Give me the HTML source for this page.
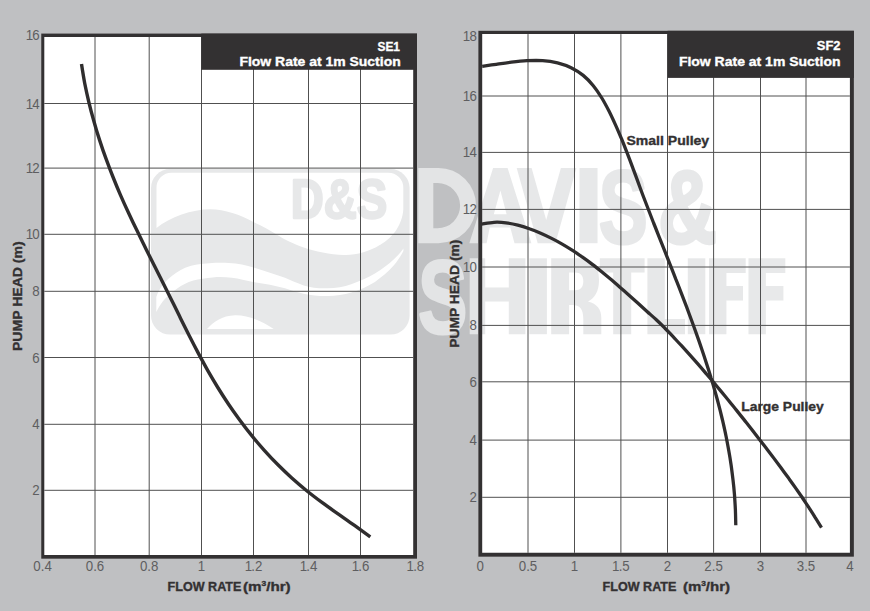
<!DOCTYPE html>
<html><head><meta charset="utf-8"><title>Pump curves</title>
<style>html,body{margin:0;padding:0;background:#bfc0c2;}body{width:870px;height:611px;overflow:hidden;}svg{display:block;position:absolute;left:0;top:0;}text{font-family:"Liberation Sans",sans-serif;}.t{font-size:14.3px;fill:#5e5e60;}.b{font-weight:bold;fill:#333132;stroke:#333132;stroke-width:0.35px;}.w{font-weight:bold;fill:#fff;stroke:#fff;stroke-width:0.35px;}</style></head><body>
<svg width="870" height="611" viewBox="0 0 870 611">
<rect width="870" height="611" fill="#bfc0c2"/>
<rect x="41.2" y="33.6" width="375.8" height="525.2" fill="#fff"/>
<rect x="478.3" y="30.8" width="375.6" height="526.0" fill="#fff"/>
<g>
<rect x="151" y="169.1" width="258.6" height="165.5" rx="19" ry="19" fill="#e7e8e9"/>
<path d="M156.5,228 V187.7 A15,15 0 0 1 171.5,172.7 H388.3 A15,15 0 0 1 403.3,187.7 V209.5 C403,216 400,226 393.9,233.2 C388,240.5 379.7,245.1 379.7,245.1 C370,251.5 355,255.5 344,255 C330,254.5 315,251.5 303.7,247.5 C292,243 286,240.5 280,236.5 C268,229 262,226 253.9,222.2 C240,214.5 225,209.3 210.3,209.2 C192,209.2 170,217 156.5,228 Z" fill="#fff"/>
<path d="M156.3,297 C159,289 164,282.5 169.1,278.2 C174,274 179,270.8 185.2,267.7 C193,264.6 201,263.6 209.4,263.2 C216,262.7 222,262.6 228.7,262.9 C238,263.5 246,265 254.4,267.7 C265,271 275,274.3 285,277.8 C291,280.2 297,283.3 303.7,285.4 C311,287.6 319,288.6 327.5,288.3 C336,288 344,286.8 351.2,284.2 C360,281 368,277.7 374.9,273.6 C382,269.3 388,264.7 393.9,259.3 C398,255.5 401,252 403.4,248.6 L403.4,251 C401,255.5 398,260.5 393.9,265.3 C388,271.8 382,277 374.9,281.9 C368,286.2 360,289.8 351.2,292.5 C344,294.7 336,296 327.5,296.1 C319,296.2 311,295.4 303.7,293.7 C297,292.1 291,290.2 285,288.2 C275,285.5 265,283.8 254.4,282.2 C246,280.5 239,278.4 231.9,277.7 C225,277 219,276.9 212.6,277.4 C206,278 199,279 193.3,280.6 C187,282.6 182,285.2 177.2,288.6 C171,292.8 166,297.2 162.7,301.5 C160,305 158,308.5 156.3,312 Z" fill="#fff"/>
<path d="M207,328.9 C213,322 222,315.6 235.1,315.2 C250,315 264,322.5 273.7,328.9 Z" fill="#fff"/>
<text x="290.8" y="218.0" font-size="55" font-weight="bold" fill="#e7e8e9" textLength="96.5" lengthAdjust="spacingAndGlyphs" stroke="#e7e8e9" stroke-width="2.4" stroke-linejoin="round">D&amp;S</text>
</g>
<g opacity="0.93" fill="#e6e7e8">
<path fill-rule="evenodd" d="M418.3,168.0 H438.5 A37.6,37.6 0 0 1 438.5,243.2 H418.3 Z M433.3,183.1 H437.5 A22.6,22.6 0 0 1 437.5,228.3 H433.3 Z"/>
<path fill-rule="evenodd" d="M469.3,243.2 L493.1,168.0 L507.6,168.0 L531.4,243.2 L514.5,243.2 L510.3,227.4 L489.7,227.4 L486.6,243.2Z M500.4,190.5 L506.6,214.3 L493.8,214.3Z"/>
<path d="M516.7,168.0 L531.6,168.0 L546.2,220.0 L560.9,168.0 L576.4,168.0 L555.4,243.2 L537.7,243.2Z"/>
<rect x="579.5" y="168.0" width="18.0" height="75.2"/>
<text x="598.8" y="242.6" font-size="103" font-weight="bold" textLength="49" lengthAdjust="spacingAndGlyphs" stroke="#e6e7e8" stroke-width="3" stroke-linejoin="round">S</text>
<text x="658" y="242.6" font-size="103" font-weight="bold" textLength="59" lengthAdjust="spacingAndGlyphs" stroke="#e6e7e8" stroke-width="3" stroke-linejoin="round">&amp;</text>
<text x="418.2" y="333.2" font-size="103" font-weight="bold" textLength="49" lengthAdjust="spacingAndGlyphs" stroke="#e6e7e8" stroke-width="3" stroke-linejoin="round">S</text>
<path d="M469.7,258.3 L485.2,258.3 L485.2,287.6 L508.8,287.6 L508.8,258.3 L525.4,258.3 L525.4,334.2 L508.8,334.2 L508.8,301.5 L485.2,301.5 L485.2,334.2 L469.7,334.2Z"/>
<rect x="529.4" y="258.3" width="17.5" height="75.9"/>
<path fill-rule="evenodd" d="M551.2,258.3 H580 C592,258.3 599,265 599,280 C599,291 595,298 588,301.5 C597,304 601.3,309 601.3,318 V334.2 H583.3 V319 C583.3,309 580,305 572,305 H569.1 V334.2 H551.2 Z M569.1,272.4 H575 C580.5,272.4 583.3,275.5 583.3,281.3 C583.3,287.2 580.5,290.3 575,290.3 H569.1 Z"/>
<path d="M599.8,258.3 L644.6,258.3 L644.6,272.4 L631.2,272.4 L631.2,334.2 L613.2,334.2 L613.2,272.4 L599.8,272.4Z"/>
<path d="M647.4,258.3 L664.8,258.3 L664.8,319.0 L685.0,319.0 L685.0,334.2 L647.4,334.2Z"/>
<rect x="687.8" y="258.3" width="17.5" height="75.9"/>
<path d="M709.0,258.3 L745.7,258.3 L745.7,273.0 L726.4,273.0 L726.4,285.9 L743.0,285.9 L743.0,300.6 L726.4,300.6 L726.4,334.2 L709.0,334.2Z"/>
<path d="M748.5,258.3 L785.3,258.3 L785.3,273.0 L765.9,273.0 L765.9,285.9 L783.4,285.9 L783.4,300.6 L765.9,300.6 L765.9,334.2 L748.5,334.2Z"/>
</g>
<path d="M95.0,36.9V555.0M149.2,36.9V555.0M201.5,36.9V555.0M253.5,36.9V555.0M308.5,36.9V555.0M360.5,36.9V555.0M44.3,103.5H413.2M44.3,168.1H413.2M44.3,234.3H413.2M44.3,291.3H413.2M44.3,357.5H413.2M44.3,424.3H413.2M44.3,490.3H413.2M528.0,34.1V552.8M574.5,34.1V552.8M620.9,34.1V552.8M667.5,34.1V552.8M713.6,34.1V552.8M760.5,34.1V552.8M806.0,34.1V552.8M482.2,96.0H849.9M482.2,152.4H849.9M482.2,209.4H849.9M482.2,267.0H849.9M482.2,325.4H849.9M482.2,381.8H849.9M482.2,440.1H849.9M482.2,497.3H849.9" stroke="#505050" stroke-width="1" fill="none"/>
<path fill-rule="evenodd" fill="#333132" d="M41.2,33.6H417.0V558.8H41.2Z M44.3,36.9H413.2V555.0H44.3Z"/>
<path fill-rule="evenodd" fill="#333132" d="M478.3,30.8H853.9V556.8H478.3Z M482.2,34.1H849.9V552.8H482.2Z"/>
<rect x="201.3" y="33.6" width="215.7" height="36.2" fill="#333132"/>
<rect x="667.6" y="30.8" width="186.3" height="47.1" fill="#333132"/>
<path d="M81.5,64.0 C82.0,67.2 83.5,76.8 84.7,83.2 C86.0,89.7 87.4,96.0 88.9,102.4 C90.4,108.7 92.1,115.1 93.9,121.3 C95.6,127.6 97.5,133.9 99.6,140.1 C101.6,146.3 103.7,152.5 106.0,158.7 C108.2,164.8 110.5,170.9 113.0,177.0 C115.4,183.1 117.9,189.1 120.5,195.1 C123.1,201.1 125.8,207.0 128.6,213.0 C131.3,218.9 134.1,224.8 137.0,230.6 C139.8,236.5 142.7,242.3 145.6,248.2 C148.5,254.0 151.5,259.8 154.4,265.7 C157.3,271.5 160.3,277.3 163.2,283.2 C166.1,289.0 169.0,294.9 171.9,300.8 C174.9,306.6 177.7,312.5 180.6,318.4 C183.5,324.2 186.4,330.1 189.4,336.0 C192.4,341.8 195.4,347.6 198.4,353.4 C201.5,359.2 204.6,364.9 207.8,370.6 C211.1,376.3 214.4,381.9 217.8,387.5 C221.2,393.0 224.7,398.5 228.4,404.0 C232.0,409.4 235.8,414.7 239.7,420.0 C243.5,425.2 247.5,430.4 251.6,435.4 C255.7,440.5 259.9,445.4 264.3,450.3 C268.6,455.1 273.1,459.9 277.7,464.5 C282.3,469.1 287.0,473.6 291.8,478.0 C296.7,482.4 301.6,486.6 306.7,490.7 C311.8,494.8 317.1,498.8 322.3,502.7 C327.6,506.6 333.0,510.3 338.4,514.1 C343.8,517.9 349.2,521.6 354.5,525.4 C359.8,529.2 367.7,534.9 370.3,536.8" fill="none" stroke="#2f2d2e" stroke-width="3.4" stroke-linecap="butt" stroke-linejoin="round"/>
<path d="M482.2,66.3 C484.6,66.0 491.4,65.0 496.3,64.3 C501.1,63.6 506.3,62.8 511.4,62.2 C516.5,61.6 521.8,61.0 527.0,60.7 C532.2,60.5 537.5,60.3 542.6,60.7 C547.7,61.0 552.7,61.7 557.5,62.8 C562.2,64.0 566.9,65.6 571.1,67.7 C575.4,69.8 579.5,72.4 583.2,75.4 C586.9,78.4 590.2,81.9 593.3,85.7 C596.4,89.5 599.2,93.7 601.8,98.0 C604.4,102.2 606.8,106.8 609.1,111.3 C611.4,115.9 613.5,120.5 615.6,125.1 C617.7,129.7 619.6,134.3 621.6,138.9 C623.5,143.6 625.3,148.2 627.1,152.9 C628.9,157.5 630.7,162.2 632.4,166.9 C634.2,171.6 635.9,176.3 637.6,180.9 C639.3,185.6 641.1,190.3 642.8,195.0 C644.6,199.6 646.4,204.3 648.2,209.0 C650.0,213.6 651.8,218.3 653.6,223.0 C655.5,227.6 657.3,232.3 659.1,236.9 C661.0,241.6 662.8,246.2 664.7,250.9 C666.5,255.6 668.4,260.2 670.2,264.9 C672.1,269.5 673.9,274.2 675.7,278.9 C677.6,283.5 679.4,288.2 681.2,292.9 C683.0,297.5 684.8,302.2 686.6,306.9 C688.3,311.6 690.1,316.3 691.8,321.0 C693.5,325.7 695.2,330.4 696.9,335.1 C698.6,339.8 700.2,344.5 701.8,349.2 C703.4,353.9 705.0,358.7 706.5,363.4 C708.1,368.2 709.6,372.9 711.0,377.7 C712.5,382.4 713.9,387.2 715.2,392.0 C716.6,396.8 717.9,401.6 719.1,406.4 C720.4,411.2 721.5,416.1 722.7,420.9 C723.8,425.8 724.9,430.6 725.9,435.5 C726.9,440.4 727.8,445.3 728.7,450.2 C729.6,455.1 730.4,460.0 731.1,465.0 C731.8,469.9 732.4,474.9 733.0,479.9 C733.6,484.8 734.1,489.8 734.5,494.9 C734.8,499.9 735.2,504.9 735.4,510.0 C735.6,515.1 735.7,522.8 735.8,525.3" fill="none" stroke="#2f2d2e" stroke-width="3.3" stroke-linecap="butt" stroke-linejoin="round"/>
<path d="M481.9,224.1 C483.9,223.8 490.0,222.5 494.0,222.3 C498.0,222.1 502.0,222.3 506.0,222.8 C509.9,223.3 513.9,224.1 517.8,225.1 C521.7,226.1 525.6,227.4 529.4,228.8 C533.2,230.1 537.0,231.6 540.7,233.2 C544.4,234.8 548.0,236.5 551.6,238.4 C555.2,240.2 558.7,242.1 562.2,244.1 C565.7,246.1 569.2,248.3 572.5,250.4 C575.9,252.6 579.2,254.9 582.5,257.2 C585.8,259.5 589.1,261.9 592.3,264.4 C595.5,266.8 598.6,269.3 601.7,271.8 C604.9,274.4 608.0,277.0 611.1,279.6 C614.1,282.2 617.2,284.8 620.2,287.5 C623.3,290.1 626.3,292.8 629.3,295.5 C632.3,298.2 635.3,300.9 638.3,303.6 C641.3,306.3 644.3,309.0 647.3,311.7 C650.3,314.4 653.4,317.0 656.3,319.8 C659.2,322.5 662.1,325.3 664.9,328.2 C667.8,331.0 670.5,334.0 673.3,336.9 C676.0,339.8 678.7,342.8 681.5,345.7 C684.2,348.7 686.9,351.7 689.6,354.7 C692.3,357.7 694.9,360.7 697.6,363.7 C700.3,366.8 702.9,369.8 705.5,372.9 C708.1,375.9 710.8,379.0 713.4,382.1 C716.0,385.2 718.5,388.3 721.1,391.4 C723.7,394.5 726.2,397.6 728.8,400.7 C731.3,403.9 733.9,407.0 736.4,410.1 C738.9,413.3 741.4,416.4 744.0,419.6 C746.5,422.8 749.0,425.9 751.4,429.1 C753.9,432.3 756.4,435.5 758.9,438.7 C761.3,441.9 763.8,445.0 766.3,448.2 C768.7,451.4 771.2,454.6 773.6,457.9 C776.0,461.1 778.4,464.3 780.8,467.5 C783.2,470.8 785.6,474.0 788.0,477.3 C790.3,480.5 792.7,483.8 795.0,487.1 C797.3,490.4 799.6,493.7 801.9,497.0 C804.1,500.4 806.4,503.7 808.6,507.1 C810.8,510.5 813.0,513.8 815.1,517.3 C817.3,520.7 820.4,525.9 821.5,527.6" fill="none" stroke="#2f2d2e" stroke-width="3.3" stroke-linecap="butt" stroke-linejoin="round"/>
<text class="t" transform="translate(42.6,570.5) scale(0.93,1)" text-anchor="middle">0.4</text>
<text class="t" transform="translate(95.0,570.5) scale(0.93,1)" text-anchor="middle">0.6</text>
<text class="t" transform="translate(149.2,570.5) scale(0.93,1)" text-anchor="middle">0.8</text>
<text class="t" transform="translate(201.5,570.5) scale(0.93,1)" text-anchor="middle">1</text>
<text class="t" transform="translate(253.5,570.5) scale(0.93,1)" text-anchor="middle">1<tspan dx="-0.9">.2</tspan></text>
<text class="t" transform="translate(308.5,570.5) scale(0.93,1)" text-anchor="middle">1<tspan dx="-0.9">.4</tspan></text>
<text class="t" transform="translate(360.5,570.5) scale(0.93,1)" text-anchor="middle">1<tspan dx="-0.9">.6</tspan></text>
<text class="t" transform="translate(415.4,570.5) scale(0.93,1)" text-anchor="middle">1<tspan dx="-0.9">.8</tspan></text>
<text class="t" transform="translate(39.6,40.3) scale(0.93,1)" text-anchor="end">1<tspan dx="-0.9">6</tspan></text>
<text class="t" transform="translate(39.6,108.5) scale(0.93,1)" text-anchor="end">1<tspan dx="-0.9">4</tspan></text>
<text class="t" transform="translate(39.6,173.1) scale(0.93,1)" text-anchor="end">1<tspan dx="-0.9">2</tspan></text>
<text class="t" transform="translate(39.6,239.3) scale(0.93,1)" text-anchor="end">1<tspan dx="-0.9">0</tspan></text>
<text class="t" transform="translate(39.6,296.3) scale(0.93,1)" text-anchor="end">8</text>
<text class="t" transform="translate(39.6,362.5) scale(0.93,1)" text-anchor="end">6</text>
<text class="t" transform="translate(39.6,429.3) scale(0.93,1)" text-anchor="end">4</text>
<text class="t" transform="translate(39.6,495.3) scale(0.93,1)" text-anchor="end">2</text>
<text class="t" transform="translate(480.2,570.5) scale(0.93,1)" text-anchor="middle">0</text>
<text class="t" transform="translate(528.0,570.5) scale(0.93,1)" text-anchor="middle">0.5</text>
<text class="t" transform="translate(574.5,570.5) scale(0.93,1)" text-anchor="middle">1</text>
<text class="t" transform="translate(620.9,570.5) scale(0.93,1)" text-anchor="middle">1<tspan dx="-0.9">.5</tspan></text>
<text class="t" transform="translate(667.5,570.5) scale(0.93,1)" text-anchor="middle">2</text>
<text class="t" transform="translate(713.6,570.5) scale(0.93,1)" text-anchor="middle">2.5</text>
<text class="t" transform="translate(760.5,570.5) scale(0.93,1)" text-anchor="middle">3</text>
<text class="t" transform="translate(806.0,570.5) scale(0.93,1)" text-anchor="middle">3.5</text>
<text class="t" transform="translate(850.0,570.5) scale(0.93,1)" text-anchor="middle">4</text>
<text class="t" transform="translate(476.8,40.9) scale(0.93,1)" text-anchor="end">1<tspan dx="-0.9">8</tspan></text>
<text class="t" transform="translate(476.8,101.0) scale(0.93,1)" text-anchor="end">1<tspan dx="-0.9">6</tspan></text>
<text class="t" transform="translate(476.8,157.4) scale(0.93,1)" text-anchor="end">1<tspan dx="-0.9">4</tspan></text>
<text class="t" transform="translate(476.8,214.4) scale(0.93,1)" text-anchor="end">1<tspan dx="-0.9">2</tspan></text>
<text class="t" transform="translate(476.8,272.0) scale(0.93,1)" text-anchor="end">1<tspan dx="-0.9">0</tspan></text>
<text class="t" transform="translate(476.8,330.4) scale(0.93,1)" text-anchor="end">8</text>
<text class="t" transform="translate(476.8,386.8) scale(0.93,1)" text-anchor="end">6</text>
<text class="t" transform="translate(476.8,445.1) scale(0.93,1)" text-anchor="end">4</text>
<text class="t" transform="translate(476.8,502.3) scale(0.93,1)" text-anchor="end">2</text>
<text class="b" font-size="12.3" x="167.5" y="590.7" textLength="73.9" lengthAdjust="spacingAndGlyphs">FLOW RATE</text>
<text class="b" font-size="12.3" x="242.9" y="590.7" textLength="47.8" lengthAdjust="spacingAndGlyphs">(m<tspan font-size="6.8" dy="-5.2">3</tspan><tspan dy="5.2">/hr)</tspan></text>
<text class="b" font-size="12.3" x="602.5" y="590.7" textLength="73.9" lengthAdjust="spacingAndGlyphs">FLOW RATE</text>
<text class="b" font-size="12.3" x="682.9" y="590.7" textLength="47.2" lengthAdjust="spacingAndGlyphs">(m<tspan font-size="6.8" dy="-5.2">3</tspan><tspan dy="5.2">/hr)</tspan></text>
<text class="b" font-size="13.2" transform="translate(22.1,351) rotate(-90)" textLength="109.6" lengthAdjust="spacingAndGlyphs">PUMP HEAD (m)</text>
<text class="b" font-size="13.2" transform="translate(458.7,347.7) rotate(-90)" textLength="108.1" lengthAdjust="spacingAndGlyphs">PUMP HEAD (m)</text>
<text class="w" font-size="12.8" x="400" y="50.6" text-anchor="end" textLength="22.5" lengthAdjust="spacingAndGlyphs">SE1</text>
<text class="w" font-size="12.8" x="239.4" y="66" textLength="161.3" lengthAdjust="spacingAndGlyphs">Flow Rate at 1m Suction</text>
<text class="w" font-size="12.8" x="840.5" y="49.7" text-anchor="end" textLength="23.7" lengthAdjust="spacingAndGlyphs">SF2</text>
<text class="w" font-size="12.8" x="678.9" y="65.9" textLength="161.6" lengthAdjust="spacingAndGlyphs">Flow Rate at 1m Suction</text>
<text class="b" font-size="12.8" x="626.4" y="144.6" textLength="82.8" lengthAdjust="spacingAndGlyphs">Small Pulley</text>
<text class="b" font-size="12.8" x="741.2" y="411.2" textLength="82.6" lengthAdjust="spacingAndGlyphs">Large Pulley</text>
</svg></body></html>
